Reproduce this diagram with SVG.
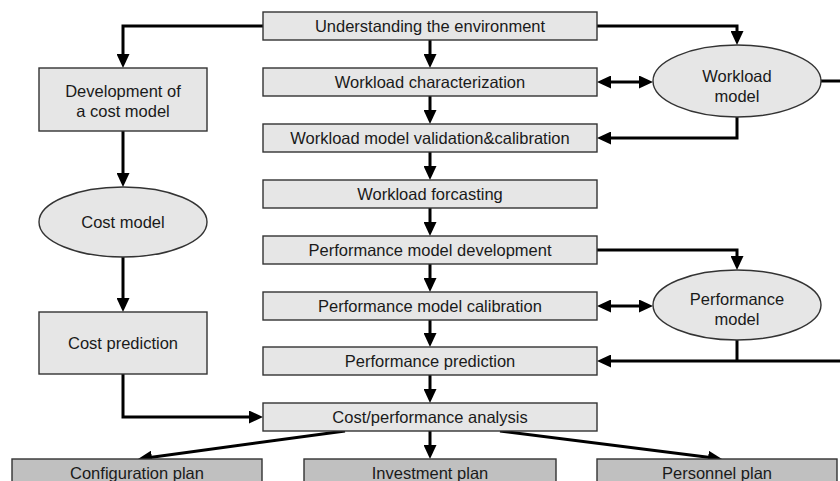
<svg xmlns="http://www.w3.org/2000/svg" width="840" height="481" viewBox="0 0 840 481">
  <style>
    .box { fill: #e6e6e6; stroke: #333; stroke-width: 1.4; }
    .plan { fill: #c0c0c0; stroke: #333; stroke-width: 1.4; }
    .lbl { font-family: "Liberation Sans", Arial, sans-serif; font-size: 16.5px; fill: #1a1a1a; text-anchor: middle; }
    .conn { fill: none; stroke: #000; stroke-width: 3; stroke-linejoin: miter; }
    .arr { marker-end: url(#head); }
    .both { marker-start: url(#head); marker-end: url(#head); }
  </style>
  <defs>
    <marker id="head" markerUnits="userSpaceOnUse" markerWidth="14" markerHeight="13" refX="2" refY="6.5" orient="auto-start-reverse">
      <path d="M0,0 L14,6.5 L0,13 z" fill="#000"/>
    </marker>
  </defs>
  <rect width="840" height="481" fill="#fff"/>

  <g id="connectors">
    <!-- main column -->
    <path class="conn arr" d="M430,40 V56"/>
    <path class="conn arr" d="M430,96 V112"/>
    <path class="conn arr" d="M430,152 V168"/>
    <path class="conn arr" d="M430,208 V224"/>
    <path class="conn arr" d="M430,264 V280"/>
    <path class="conn arr" d="M430,320 V335"/>
    <path class="conn arr" d="M430,375 V391"/>
    <!-- cost branch -->
    <path class="conn arr" d="M263,26 H123 V56"/>
    <path class="conn arr" d="M123,131 V175"/>
    <path class="conn arr" d="M123,257 V300"/>
    <path class="conn arr" d="M123,374 V417 H251"/>
    <!-- workload model -->
    <path class="conn arr" d="M597,26 H737 V33"/>
    <path class="conn both" d="M609,82 H641"/>
    <path class="conn arr" d="M737,117 V138 H609"/>
    <path class="conn" d="M821,81 H840"/>
    <!-- performance model -->
    <path class="conn arr" d="M597,250 H737 V258"/>
    <path class="conn both" d="M609,306 H641"/>
    <path class="conn arr" d="M840,361 H609"/>
    <path class="conn" d="M737,340 V361"/>
    <!-- plans -->
    <path class="conn arr" d="M345,431 L149.9,457.4"/>
    <path class="conn arr" d="M430,431 V447"/>
    <path class="conn arr" d="M500,431 L710.1,457.5"/>
  </g>

  <g id="understanding">
    <rect class="box" x="263" y="12" width="334" height="28"/>
    <text class="lbl" x="430" y="32">Understanding the environment</text>
  </g>
  <g id="workload-characterization">
    <rect class="box" x="263" y="68" width="334" height="28"/>
    <text class="lbl" x="430" y="88">Workload characterization</text>
  </g>
  <g id="workload-validation">
    <rect class="box" x="263" y="124" width="334" height="28"/>
    <text class="lbl" x="430" y="144">Workload model validation&amp;calibration</text>
  </g>
  <g id="workload-forecasting">
    <rect class="box" x="263" y="180" width="334" height="28"/>
    <text class="lbl" x="430" y="200">Workload forcasting</text>
  </g>
  <g id="performance-development">
    <rect class="box" x="263" y="236" width="334" height="28"/>
    <text class="lbl" x="430" y="256">Performance model development</text>
  </g>
  <g id="performance-calibration">
    <rect class="box" x="263" y="292" width="334" height="28"/>
    <text class="lbl" x="430" y="312">Performance model calibration</text>
  </g>
  <g id="performance-prediction">
    <rect class="box" x="263" y="347" width="334" height="28"/>
    <text class="lbl" x="430" y="367">Performance prediction</text>
  </g>
  <g id="cost-performance-analysis">
    <rect class="box" x="263" y="403" width="334" height="28"/>
    <text class="lbl" x="430" y="423">Cost/performance analysis</text>
  </g>

  <g id="cost-model-development">
    <rect class="box" x="39" y="68" width="168" height="63"/>
    <text class="lbl" x="123" y="96.5">Development of</text>
    <text class="lbl" x="123" y="116.5">a cost model</text>
  </g>
  <g id="cost-model">
    <ellipse class="box" cx="123" cy="222" rx="84" ry="35"/>
    <text class="lbl" x="123" y="228">Cost model</text>
  </g>
  <g id="cost-prediction">
    <rect class="box" x="39" y="312" width="168" height="62"/>
    <text class="lbl" x="123" y="349">Cost prediction</text>
  </g>

  <g id="workload-model">
    <ellipse class="box" cx="737" cy="81" rx="84" ry="36"/>
    <text class="lbl" x="737" y="81.5">Workload</text>
    <text class="lbl" x="737" y="101.5">model</text>
  </g>
  <g id="performance-model">
    <ellipse class="box" cx="737" cy="305" rx="84" ry="35"/>
    <text class="lbl" x="737" y="305">Performance</text>
    <text class="lbl" x="737" y="325">model</text>
  </g>

  <g id="configuration-plan">
    <rect class="plan" x="12" y="459" width="250" height="28"/>
    <text class="lbl" x="137" y="479">Configuration plan</text>
  </g>
  <g id="investment-plan">
    <rect class="plan" x="304" y="459" width="252" height="28"/>
    <text class="lbl" x="430" y="479">Investment plan</text>
  </g>
  <g id="personnel-plan">
    <rect class="plan" x="597" y="459" width="240" height="28"/>
    <text class="lbl" x="717" y="479">Personnel plan</text>
  </g>
</svg>
